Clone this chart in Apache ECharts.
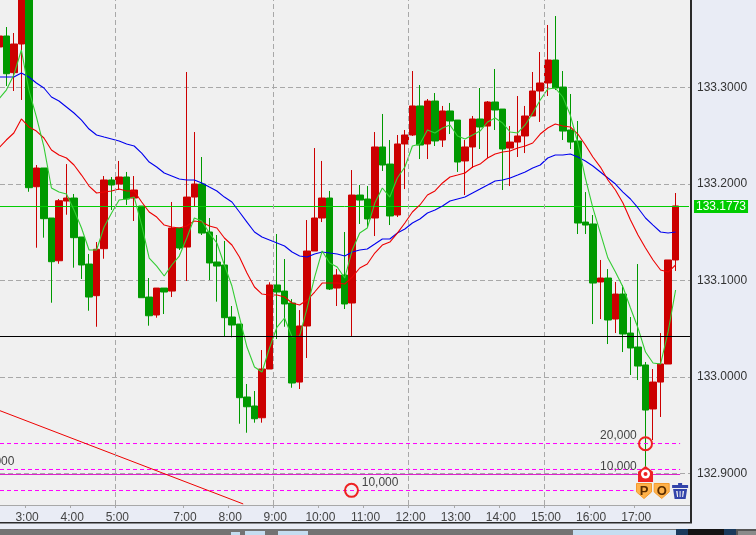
<!DOCTYPE html>
<html><head><meta charset="utf-8">
<style>html,body{margin:0;padding:0;background:#e9ecf5}#c{width:756px;height:535px}</style>
<script src="https://cdn.jsdelivr.net/npm/echarts@6/dist/echarts.min.js"></script>
</head><body><div id="c"></div>
<script>
// [open, close, low, high]
const candles = [
[133.3420,133.3534,133.3420,133.3534],[133.3534,133.3143,133.3016,133.3627],[133.3154,133.3451,133.2964,133.3565],[133.3451,133.3990,133.2871,133.4052],
[133.3990,133.1962,133.1920,133.4031],[133.1972,133.2166,133.1340,133.2197],[133.2166,133.1641,133.1444,133.2166],[133.1648,133.1195,133.0770,133.1648],
[133.1205,133.1827,133.1174,133.1845],[133.1824,133.1855,133.1682,133.2207],[133.1855,133.1444,133.1133,133.1897],[133.1451,133.1161,133.1016,133.1451],
[133.1171,133.0829,133.0687,133.1275],[133.0843,133.1324,133.0521,133.1399],[133.1330,133.2042,133.1226,133.2083],[133.2042,133.1990,133.1731,133.2073],
[133.2000,133.2073,133.1938,133.2239],[133.2073,133.1845,133.1783,133.2125],[133.1855,133.1938,133.1617,133.2083],[133.1772,133.0822,133.0822,133.1772],
[133.0829,133.0635,133.0532,133.1026],[133.0643,133.0922,133.0615,133.0922],[133.0922,133.0881,133.0653,133.0922],[133.0891,133.1544,133.0829,133.1814],
[133.1544,133.1337,133.1316,133.1544],[133.1347,133.1865,133.0995,133.3161],[133.1865,133.2000,133.1762,133.2539],[133.2000,133.1492,133.1472,133.2280],
[133.1503,133.1182,133.1005,133.1648],[133.1192,133.1150,133.0781,133.1472],[133.1161,133.0615,133.0418,133.1410],[133.0622,133.0539,133.0412,133.0736],
[133.0549,132.9786,132.9516,133.0549],[132.9793,132.9692,132.9423,132.9928],[132.9700,132.9568,132.9527,132.9855],[132.9578,133.0083,132.9527,133.0280],
[133.0083,133.0954,133.0083,133.0982],[133.0954,133.0881,133.0394,133.1482],[133.0891,133.0757,133.0521,133.1223],[133.0767,132.9938,132.9889,133.0808],
[132.9948,133.0529,132.9876,133.0694],[133.0529,133.1306,133.0197,133.1627],[133.1306,133.1648,133.1306,133.2373],[133.1648,133.1855,133.1606,133.2239],
[133.1855,133.0912,133.0902,133.1928],[133.0922,133.1057,133.0736,133.1119],[133.1057,133.0757,133.0705,133.1503],[133.0767,133.1886,133.0422,133.2145],
[133.1886,133.1834,133.1586,133.1990],[133.1845,133.1638,133.1555,133.1979],[133.1648,133.2384,133.1461,133.2539],[133.2384,133.2197,133.2135,133.2726],
[133.2207,133.1669,133.1575,133.2456],[133.1679,133.2415,133.1658,133.2508],[133.2415,133.2508,133.1948,133.2560],[133.2508,133.2809,133.2498,133.3171],
[133.2809,133.2404,133.2259,133.3026],[133.2415,133.2860,133.2259,133.2881],[133.2860,133.2446,133.2394,133.2943],[133.2456,133.2757,133.2384,133.2809],
[133.2757,133.2653,133.2518,133.2840],[133.2663,133.2228,133.2125,133.2663],[133.2239,133.2384,133.1886,133.2456],[133.2384,133.2674,133.2166,133.2705],
[133.2674,133.2591,133.2363,133.2995],[133.2601,133.2850,133.2270,133.2860],[133.2850,133.2767,133.2560,133.3192],[133.2777,133.2363,133.1938,133.2777],
[133.2373,133.2435,133.1979,133.2601],[133.2435,133.2498,133.2280,133.2912],[133.2498,133.2705,133.2321,133.2809],[133.2705,133.2964,133.2705,133.3161],
[133.2964,133.3047,133.2643,133.3368],[133.3047,133.3285,133.2912,133.3648],[133.3285,133.2995,133.2974,133.3741],[133.3005,133.2549,133.2456,133.3171],
[133.2560,133.2435,133.2363,133.2933],[133.2446,133.1596,133.1482,133.2653],[133.1606,133.1575,133.1482,133.1917],[133.1586,133.0974,133.0549,133.1679],
[133.0985,133.1026,133.0601,133.1213],[133.1026,133.0591,133.0342,133.1119],[133.0601,133.0860,133.0456,133.0985],[133.0860,133.0446,133.0259,133.0954],
[133.0456,133.0301,133.0021,133.0622],[133.0311,133.0114,132.9969,133.1171],[133.0125,132.9658,132.8985,133.0156],[132.9669,132.9948,132.9347,133.0083],
[132.9948,133.0135,132.9586,133.0456],[133.0135,133.1213,133.0135,133.1213],[133.1213,133.1773,133.1099,133.1907]
];
const maShort = [133.2881,133.2974,133.3130,133.3389,133.2974,133.2695,133.2384,133.1959,133.1917,133.1897,133.1731,133.1544,133.1316,133.1316,133.1555,133.1700,133.1834,133.1845,133.1865,133.1575,133.1233,133.1150,133.1047,133.1161,133.1254,133.1441,133.1648,133.1617,133.1492,133.1389,133.1161,133.0943,133.0622,133.0311,133.0104,133.0052,133.0301,133.0518,133.0612,133.0415,133.0425,133.0715,133.1036,133.1306,133.1182,133.1140,133.1026,133.1316,133.1492,133.1544,133.1803,133.1959,133.1865,133.2062,133.2176,133.2394,133.2415,133.2560,133.2529,133.2581,133.2612,133.2498,133.2467,133.2508,133.2549,133.2643,133.2684,133.2632,133.2539,133.2529,133.2612,133.2736,133.2871,133.2985,133.2995,133.2902,133.2715,133.2425,133.2062,133.1752,133.1492,133.1233,133.1088,133.0933,133.0715,133.0508,133.0259,133.0145,133.0135,133.0467,133.0902];
const maMid = [133.2373,133.2456,133.2529,133.2674,133.2591,133.2549,133.2477,133.2353,133.2301,133.2270,133.2197,133.2093,133.1979,133.1907,133.1917,133.1928,133.1948,133.1928,133.1928,133.1814,133.1710,133.1658,133.1575,133.1555,133.1544,133.1565,133.1617,133.1606,133.1565,133.1544,133.1441,133.1368,133.1244,133.1078,133.0933,133.0860,133.0850,133.0850,133.0829,133.0767,133.0746,133.0798,133.0881,133.0974,133.0974,133.0974,133.0964,133.1036,133.1130,133.1171,133.1285,133.1368,133.1399,133.1492,133.1596,133.1710,133.1783,133.1886,133.1928,133.2011,133.2073,133.2093,133.2114,133.2176,133.2207,133.2270,133.2311,133.2332,133.2342,133.2373,133.2394,133.2425,133.2518,133.2581,133.2622,133.2601,133.2591,133.2518,133.2404,133.2280,133.2176,133.2042,133.1938,133.1803,133.1627,133.1472,133.1337,133.1213,133.1109,133.1088,133.1161];
const maLong = [133.3109,133.3109,133.3109,133.3151,133.3109,133.3047,133.2995,133.2902,133.2860,133.2798,133.2736,133.2663,133.2570,133.2508,133.2487,133.2467,133.2446,133.2415,133.2394,133.2321,133.2228,133.2176,133.2114,133.2083,133.2052,133.2042,133.2042,133.2011,133.1969,133.1928,133.1865,133.1814,133.1710,133.1606,133.1503,133.1451,133.1420,133.1389,133.1358,133.1296,133.1254,133.1244,133.1275,133.1296,133.1285,133.1275,133.1254,133.1296,133.1316,133.1327,133.1378,133.1430,133.1430,133.1492,133.1534,133.1596,133.1638,133.1700,133.1731,133.1772,133.1824,133.1845,133.1865,133.1907,133.1948,133.1990,133.2031,133.2042,133.2062,133.2093,133.2125,133.2166,133.2197,133.2270,133.2301,133.2301,133.2311,133.2280,133.2239,133.2187,133.2125,133.2062,133.2000,133.1917,133.1845,133.1752,133.1648,133.1575,133.1503,133.1492,133.1503];
const hourLabels = ['3:00','4:00','5:00','7:00','8:00','9:00','10:00','11:00','12:00','13:00','14:00','15:00','16:00','17:00'];
const hourPositions = [3.5,9.5,15.5,24.5,30.5,36.5,42.5,48.5,54.5,60.5,66.5,72.5,78.5,84.5];
const gridHours = [15.5,36.5,54.5,72.5];
const priceTicks = [133.3,133.2,133.1,133.0,132.9];
const lastPriceText = '133.1773';
const lastLevel = 133.1767;
const blackLevel = 133.0420;
const dashedLevels = [[132.9311,90.6],[132.9042,90.6],[132.8824,84.4]];
const solidLevel = 132.8990;
const trendX = [0.16,32.5];
const trendY = [132.9651,132.8685];
const orderCircles = [[46.9,132.8826],[86,132.9309]];
const orderLabels = [[48.2,132.8902,'10,000','right'],[84.9,132.9389,'20,000','left'],[84.9,132.9068,'10,000','left'],[2.15,132.9119,'10,000','left']];
const xMin = 0.16, xMax = 91.915, yMin = 132.8674, yMax = 133.3907;

const F = '"Liberation Sans", Arial, sans-serif';
const hline = (v, x0, x1, color, type) => ({
  type:'line', symbol:'none', silent:true, z:3, data:[[x0,v],[x1,v]],
  lineStyle:{color, width:1, type: type||'solid'}
});
const ma = (arr, color) => ({
  type:'line', symbol:'none', silent:true, z:4, data:arr.map((v,i)=>[i,v]),
  lineStyle:{color, width:1.1}
});
const labelled = (x,y,text,pos) => ({
  type:'scatter', symbol:'circle', symbolSize:1, silent:true, z:7, clip:false, data:[[x,y]],
  itemStyle:{color:'rgba(0,0,0,0)',opacity:1},
  label:{show:true,formatter:text,position:pos,distance:0,fontFamily:F,fontSize:12,color:'#444'},
  labelLayout:{hideOverlap:false}
});
const shield = 'path://M0 0H16V9L8 16L0 9Z';
const icon = (x,y,sym,size,fill,border,text) => ({
  type:'scatter', silent:true, z:8, symbol:sym, symbolSize:size, data:[[x,y]],
  itemStyle:{color:fill,opacity:1,borderColor:border||fill,borderWidth:border?1:0},
  label:{show:!!text,formatter:text||'',position:'inside',fontFamily:F,fontWeight:'bold',fontSize:13,color:'#5a2d00'}
});

const series = [
  { type:'line', symbol:'none', data:[], silent:true,
    markLine:{silent:true,symbol:'none',animation:false,label:{show:false},
      lineStyle:{color:'#a8a8a8',width:1,type:[5,3]},
      data:gridHours.map(x=>({xAxis:x}))}},
  { type:'candlestick', z:2, silent:true, barWidth:7,
    data:candles.map((c,i)=>[i,c[0],c[1],c[2],c[3]]),
    encode:{x:0,y:[1,2,3,4]},
    itemStyle:{color:'#cc0000',color0:'#009900',borderColor:'#cc0000',borderColor0:'#009900',borderWidth:1}},
  ma(maLong,'#0000ee'), ma(maMid,'#ee0000'), ma(maShort,'#33cc33'),
  Object.assign(hline(blackLevel,xMin,xMax,'#000000'),{z:5}),
  Object.assign(hline(lastLevel,xMin,91.78,'#00cc00'),{
    endLabel:{show:true,formatter:lastPriceText,color:'#ffffff',backgroundColor:'#00cc00',fontFamily:F,fontSize:12,padding:[1,2,0,2],distance:5}
  }),
  ...dashedLevels.map(d=>hline(d[0],xMin,d[1],'#ff00ff',[4,3])),
  hline(solidLevel,xMin,90.6,'#dd22cc'),
  { type:'line', symbol:'none', silent:true, z:3, data:trendX.map((x,i)=>[x,trendY[i]]), lineStyle:{color:'#ee0000',width:1}},
  { type:'scatter', silent:true, z:6, symbol:'circle', symbolSize:13, data:orderCircles,
    itemStyle:{color:'rgba(0,0,0,0)',borderColor:'#ee2222',borderWidth:2,opacity:1}},
  ...orderLabels.map(l=>labelled(l[0],l[1],l[2],l[3])),
  icon(86,132.8995,'path://M8 0L16 6V17H0V6Z',[15,16],'#ee2222'),
  icon(86,132.8995,'circle',9,'#ffffff'),
  icon(86,132.8995,'circle',4,'#ee2222'),
  icon(85.8,132.8819,shield,[15,15],'#ffb24a','#f39a2e','P'),
  icon(88.15,132.8819,shield,[15,15],'#ffb24a','#f39a2e','O'),
  icon(90.6,132.8819,'path://M6 0H10V2H16V5H0V2H6ZM1 6H15L13.5 16H2.5ZM4 8L5 14H6L5.5 8ZM7.5 8V14H8.5V8ZM10.5 8L10 14H11L12 8Z',[16,16],'#3344aa')
];

const rect = (x,y,w,h,fill) => ({type:'rect',silent:true,z:10,shape:{x,y,width:w,height:h},style:{fill}});
const chart = echarts.init(document.getElementById('c'),null,{renderer:'canvas'});
chart.setOption({
  animation:false,
  backgroundColor:'#e9ecf5',
  grid:{left:0,right:66,top:0,bottom:30,show:true,backgroundColor:'#f0f0f0',borderWidth:0},
  xAxis:{type:'value',min:xMin,max:xMax,
    axisLine:{show:true,onZero:false,lineStyle:{color:'#a8a8a8',width:1}},
    axisTick:{show:true,length:3,customValues:hourPositions,lineStyle:{color:'#a8a8a8'}},
    axisLabel:{show:true,customValues:hourPositions,margin:7,fontFamily:F,fontSize:12,color:'#444',padding:[0,0,0,4],hideOverlap:false,
      showMinLabel:true,showMaxLabel:true,
      formatter:v=>hourLabels[hourPositions.indexOf(v)]||''},
    splitLine:{show:false}},
  yAxis:{type:'value',position:'right',min:yMin,max:yMax,scale:true,
    axisLine:{show:false},
    axisTick:{show:false,customValues:priceTicks},
    axisLabel:{customValues:priceTicks,margin:7,fontFamily:F,fontSize:12,color:'#333',
      formatter:v=>v.toFixed(4)},
    splitLine:{show:true,lineStyle:{color:'#a8a8a8',width:1,type:[5,3]}}},
  series,
  graphic:[
    rect(690,0,2,523,'#2a2a2a'),
    rect(0,522,692,1.5,'#2a2a2a'),
    rect(0,529,756,6,'#737373'),
    rect(231,532,9,3,'#c5ddf0'),rect(245,531,20,4,'#c5ddf0'),rect(278,531,30,4,'#c5ddf0'),
    rect(573,530,103,5,'#c5ddf0'),rect(676,529,12,6,'#1a3a5c'),rect(688,529,36,6,'#141414'),
    rect(724,529,12,6,'#1a3a5c'),rect(736,529,20,6,'#555555'),rect(738,531,18,4,'#8a8a8a')
  ]
});
</script></body></html>
